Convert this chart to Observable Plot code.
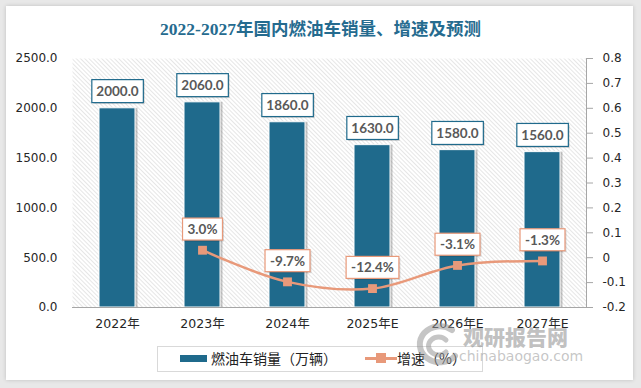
<!DOCTYPE html>
<html><head><meta charset="utf-8">
<script src="https://cdn.jsdelivr.net/npm/d3@7"></script>
<script src="https://cdn.jsdelivr.net/npm/@observablehq/plot@0.6"></script>
<style>
html,body{margin:0;padding:0;}
body{width:641px;height:388px;background:#e8e8e8;position:relative;overflow:hidden;font-family:"DejaVu Sans","Noto Sans CJK SC",sans-serif;}
#card{position:absolute;left:6px;top:6px;width:627px;height:374px;background:#fff;box-shadow:0 0 4px rgba(0,0,0,0.18);}
#title{position:absolute;left:0;width:641px;top:15px;text-align:center;font:bold 17.5px "Liberation Serif","Noto Sans CJK SC",serif;color:#256b8f;white-space:nowrap;}
.plotwrap{position:absolute;left:0;top:0;}
#legend{position:absolute;left:157px;top:346px;width:326px;height:26px;border:1px solid #d9d9d9;box-sizing:border-box;}
.lg{position:absolute;font:14px "Noto Sans CJK SC",sans-serif;color:#222;line-height:16px;white-space:nowrap;}
#wm{position:absolute;left:0;top:0;width:641px;height:388px;pointer-events:none;}
</style></head>
<body>
<div id="card"></div>
<div id="p1" class="plotwrap"></div>
<div id="p2" class="plotwrap"></div>
<div id="title">2022-2027年国内燃油车销量、增速及预测</div>
<div id="legend"></div>
<div id="wm"></div>
<script>
// ---- data ----
const categories = ["2022年","2023年","2024年","2025年E","2026年E","2027年E"];
const sales = [2000, 2060, 1860, 1630, 1580, 1560];
const growthCategories = ["2023年","2024年","2025年E","2026年E","2027年E"];
const growth = [0.030, -0.097, -0.124, -0.031, -0.013];
const leftTicks = [0, 500, 1000, 1500, 2000, 2500];
const rightTicks = [-0.2, -0.1, 0, 0.1, 0.2, 0.3, 0.4, 0.5, 0.6, 0.7, 0.8];
const rightLabels = ["-0.2","-0.1","0","0.1","0.2","0.3","0.4","0.5","0.6","0.7","0.8"];
const legendLabels = ["燃油车销量（万辆）", "增速（%）"];

const BAR = "#1f6a8c", LINE = "#e8997a";
const salesData = categories.map((c, i) => ({cat: c, value: sales[i]}));
const growthData = growthCategories.map((c, i) => ({cat: c, value: growth[i]}));

const common = {
  width: 641, height: 388,
  marginLeft: 72, marginRight: 55, marginTop: 58, marginBottom: 81,
  style: {background: "transparent", fontFamily: '"DejaVu Sans","Noto Sans CJK SC",sans-serif', fontSize: "12px", color: "#262626"}
};
const xScale = {domain: categories, paddingInner: 0.58, paddingOuter: 0.29};

const plot1 = Plot.plot({
  ...common,
  x: xScale,
  y: {domain: [0, 2500]},
  marks: [
    Plot.frame({fill: "url(#hatch)", stroke: "none"}),
    Plot.barY(salesData, {x: "cat", y: "value", fill: "#444", fillOpacity: 0.3, dx: 2.5}),
    Plot.barY(salesData, {x: "cat", y: "value", fill: BAR, stroke: "white", strokeWidth: 1}),
    Plot.ruleY([0], {stroke: "#a6a6a6"}),
    Plot.axisY({ticks: leftTicks, tickSize: 0, tickPadding: 15, tickFormat: d => d.toFixed(1), label: null}),
    Plot.axisX({tickSize: 0, tickPadding: 12, label: null, fontSize: 12.5}),
    Plot.text(salesData, {x: "cat", y: "value", text: d => d.value.toFixed(1), dy: -16.5, lineAnchor: "middle",
      fontFamily: "Lato", fontWeight: "bold", fontSize: 13.5, fill: "#595959"})
  ]
});

const plot2 = Plot.plot({
  ...common,
  x: {...xScale, axis: null},
  y: {domain: [-0.2, 0.8], axis: null},
  marks: [
    Plot.axisY({ticks: rightTicks, anchor: "right", tickSize: 6, tickPadding: 10, stroke: "#a6a6a6",
      tickFormat: d => rightLabels[rightTicks.indexOf(d)], label: null}),
    Plot.frame({anchor: "right", stroke: "#a6a6a6"}),
    Plot.line(growthData, {x: "cat", y: "value", curve: "catmull-rom", stroke: LINE, strokeWidth: 2.5}),
    Plot.dot(growthData, {x: "cat", y: "value", symbol: "square", r: 5, fill: LINE, stroke: "none"}),
    Plot.text(growthData, {x: "cat", y: "value", text: d => (d.value * 100).toFixed(1) + "%", dy: -20.5, lineAnchor: "middle",
      fontFamily: "Lato", fontWeight: "bold", fontSize: 13.5, fill: "#595959"})
  ]
});

// hatch pattern
const ns = "http://www.w3.org/2000/svg";
const defs = document.createElementNS(ns, "defs");
defs.innerHTML = '<pattern id="hatch" width="3" height="3" patternUnits="userSpaceOnUse" patternTransform="rotate(-45)">' +
  '<rect width="3" height="3" fill="#fff"/><line x1="0" y1="0" x2="0" y2="3" stroke="#d2d2d2" stroke-width="1.1"/></pattern>';
plot1.insertBefore(defs, plot1.firstChild);

document.getElementById("p1").appendChild(plot1);
document.getElementById("p2").appendChild(plot2);

function boxLabels(svg, stroke, padX, h) {
  const g = svg.querySelector('g[aria-label="text"]');
  if (!g) return;
  for (const t of Array.from(g.querySelectorAll("text"))) {
    const b = t.getBBox();
    const cy = b.y + b.height / 2;
    const w = b.width + 2 * padX;
    const mk = (dx, dy, fill, st) => {
      const r = document.createElementNS(ns, "rect");
      r.setAttribute("x", b.x - padX + dx);
      r.setAttribute("y", cy - h / 2 + dy);
      r.setAttribute("width", w);
      r.setAttribute("height", h);
      r.setAttribute("fill", fill);
      if (st) { r.setAttribute("stroke", st); r.setAttribute("stroke-width", 1.2); }
      if (t.getAttribute("transform")) r.setAttribute("transform", t.getAttribute("transform"));
      g.insertBefore(r, t);
    };
    mk(1.5, 1.5, "rgba(0,0,0,0.14)");
    mk(0, 0, "#fff", stroke);
  }
}
boxLabels(plot1, BAR, 4.5, 23);
boxLabels(plot2, LINE, 5, 22);

// legend
const lg = document.getElementById("legend");
lg.innerHTML =
  `<div style="position:absolute;left:22px;top:8px;width:27px;height:7px;background:${BAR}"></div>` +
  `<div class="lg" style="left:53px;top:3px">${legendLabels[0]}</div>` +
  `<div style="position:absolute;left:207px;top:10px;width:32px;height:3px;background:${LINE}"></div>` +
  `<div style="position:absolute;left:218px;top:6px;width:10px;height:10px;background:${LINE}"></div>` +
  `<div class="lg" style="left:239px;top:3px">${legendLabels[1]}</div>`;

// watermark
document.getElementById("wm").innerHTML =
  '<svg width="641" height="388" style="position:absolute;left:0;top:0">' +
  '<g fill="none" stroke="rgba(150,150,150,0.55)" stroke-linecap="round">' +
  '<path d="M452,330 A20,18 0 1 0 455,356" stroke-width="6"/>' +
  '<path d="M446,340 A10,9 0 1 0 446,352" stroke-width="5"/></g>' +
  '<text x="463" y="345" font-family="Noto Sans CJK SC" font-weight="900" font-size="21" fill="rgba(140,140,140,0.55)">观研报告网</text>' +
  '<text x="459" y="361" font-family="DejaVu Sans" font-size="14" fill="rgba(150,150,150,0.55)">chinabaogao.com</text>' +
  '</svg>';
</script>
</body></html>
